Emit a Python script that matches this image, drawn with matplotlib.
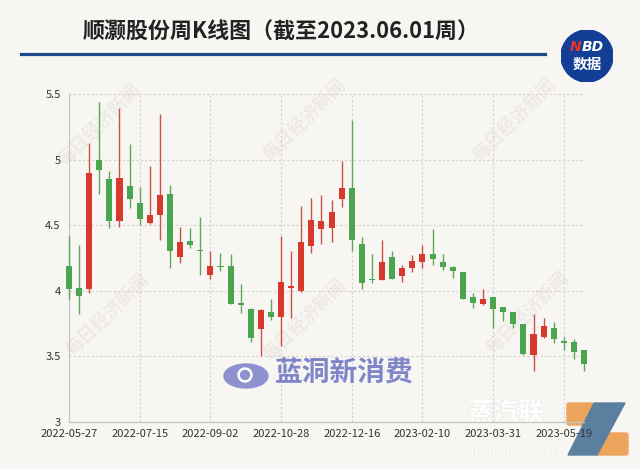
import numpy as np
import pandas as pd
import matplotlib.pyplot as plt
from matplotlib.patches import Rectangle, Circle, Ellipse, Polygon, FancyBboxPatch
import matplotlib.patheffects as pe

plt.rcParams['font.family'] = ['Noto Sans CJK SC', 'DejaVu Sans']

# weekly candles, Chinese colour convention: red = up, green = down
opens  = [4.19, 4.02, 4.01, 5.00, 4.85, 4.53, 4.80, 4.67, 4.52, 4.58,
          4.74, 4.26, 4.38, 4.31, 4.12, 4.19, 4.19, 3.91, 3.86, 3.71,
          3.84, 3.80, 4.02, 4.00, 4.34, 4.47, 4.48, 4.70, 4.78, 4.36,
          4.09, 4.08, 4.26, 4.11, 4.17, 4.22, 4.28, 4.22, 4.18, 4.14,
          3.95, 3.90, 3.95, 3.88, 3.84, 3.75, 3.51, 3.65, 3.72, 3.62,
          3.61, 3.55]
closes = [4.01, 3.96, 4.90, 4.92, 4.53, 4.86, 4.70, 4.55, 4.58, 4.73,
          4.30, 4.37, 4.35, 4.30, 4.19, 4.18, 3.90, 3.89, 3.64, 3.85,
          3.80, 4.07, 4.04, 4.37, 4.54, 4.53, 4.60, 4.78, 4.39, 4.06,
          4.08, 4.22, 4.09, 4.17, 4.23, 4.28, 4.24, 4.18, 4.15, 3.94,
          3.91, 3.94, 3.86, 3.84, 3.75, 3.52, 3.67, 3.73, 3.63, 3.60,
          3.53, 3.44]
highs  = [4.42, 4.35, 5.13, 5.44, 4.91, 5.39, 5.12, 4.79, 4.95, 5.35,
          4.81, 4.49, 4.48, 4.56, 4.30, 4.29, 4.28, 4.05, 3.87, 3.86,
          3.94, 4.42, 4.30, 4.65, 4.71, 4.73, 4.69, 4.99, 5.30, 4.41,
          4.28, 4.39, 4.30, 4.20, 4.27, 4.35, 4.47, 4.28, 4.19, 4.14,
          3.98, 4.01, 3.95, 3.88, 3.84, 3.75, 3.82, 3.79, 3.76, 3.65,
          3.63, 3.55]
lows   = [3.94, 3.82, 3.98, 4.74, 4.48, 4.49, 4.63, 4.50, 4.51, 4.39,
          4.17, 4.21, 4.33, 4.12, 4.09, 4.15, 3.90, 3.83, 3.61, 3.50,
          3.78, 3.58, 3.79, 3.99, 4.29, 4.36, 4.37, 4.64, 4.30, 4.01,
          4.06, 4.08, 4.09, 4.07, 4.14, 4.17, 4.20, 4.16, 4.10, 3.94,
          3.87, 3.89, 3.72, 3.77, 3.72, 3.51, 3.39, 3.64, 3.60, 3.55,
          3.48, 3.39]

# trading weeks (holiday weeks 2022-10-07 and 2023-01-27 have no candle)
weeks = pd.date_range("2022-05-27", "2023-06-02", freq="W-FRI")
weeks = [d for d in weeks if d.strftime("%Y-%m-%d") not in ("2022-10-07", "2023-01-27")]
tick_idx = [0, 7, 14, 21, 28, 35, 42, 49]
tick_labels = [weeks[i].strftime("%Y-%m-%d") for i in tick_idx]

title = "顺灏股份周K线图（截至2023.06.01周）"
bg = "#f8f6f2"
up_col, up_wick = "#d8392d", "#c95048"
dn_col, dn_wick = "#4aa64e", "#5aa85c"

W, H = 640, 469
fig = plt.figure(figsize=(6.4, 4.69), dpi=100, facecolor=bg)

def fx(x): return x / W
def fy(y): return 1 - y / H

# background layer: watermarks and the bottom-right logo sit under the chart
back = fig.add_axes([0, 0, 1, 1], facecolor="none", zorder=-1)
back.set_xlim(0, W); back.set_ylim(H, 0); back.axis("off")
for cx, cy in [(100, 125), (305, 120), (515, 120), (108, 315), (305, 320), (528, 313)]:
    back.text(cx, cy, "每日经济新闻", fontsize=13, color="#edeae5", rotation=45,
              ha="center", va="center", fontweight="bold")
back.text(506, 413, "蒸汽联", fontsize=18, fontweight="bold", color="white", ha="center",
          va="center", path_effects=[pe.withStroke(linewidth=1.0, foreground="#efece8")])
back.text(506, 450, "vapejoin.com", fontsize=11, style="italic", color="white", ha="center",
          va="center", path_effects=[pe.withStroke(linewidth=0.8, foreground="#f0ede9")])
back.add_patch(FancyBboxPatch((567, 403), 26, 22, boxstyle="round,pad=0,rounding_size=2",
                              color="#eda55e"))
back.add_patch(FancyBboxPatch((596, 433), 32, 22, boxstyle="round,pad=0,rounding_size=2",
                              color="#eda55e"))
back.add_patch(Polygon([(594, 403), (625, 403), (597, 455), (568, 455)], closed=True,
                       color="#5b7f9f"))

# header
fig.text(fx(83), fy(32), title, fontsize=15.8, fontweight="bold", color="#222222",
         ha="left", va="center")
fig.add_artist(plt.Line2D([fx(21), fx(545)], [fy(54), fy(54)], color="#1d4a8a", lw=2.3))
logo = fig.add_axes([fx(561), fy(82), fx(52), 52 / H])
logo.set_xlim(0, 1); logo.set_ylim(0, 1); logo.axis("off")
logo.add_patch(Circle((0.5, 0.5), 0.5, color="#123f95"))
logo.text(0.40, 0.68, "N", color="#e8332a", fontsize=10, fontweight="bold", style="italic",
          ha="right", va="center", family="DejaVu Sans")
logo.text(0.40, 0.68, "BD", color="white", fontsize=10, fontweight="bold", style="italic",
          ha="left", va="center", family="DejaVu Sans")
logo.text(0.5, 0.36, "数据", color="white", fontsize=10.5, fontweight="bold",
          ha="center", va="center")

ax = fig.add_axes([fx(69), fy(422), fx(584 - 69), (422 - 94) / H])
ax.set_facecolor("none")

for i in range(len(opens)):
    o, c, h, l = opens[i], closes[i], highs[i], lows[i]
    up = c >= o
    ax.vlines(i, l, h, color=up_wick if up else dn_wick, lw=1.0, zorder=3, clip_on=False)
    bottom = min(o, c)
    height = max(abs(c - o), 0.006)
    ax.add_patch(Rectangle((i - 0.3, bottom), 0.6, height,
                           facecolor=up_col if up else dn_col, edgecolor="none",
                           zorder=4, clip_on=False))

ax.set_xlim(0, len(opens) - 1)
ax.set_ylim(3, 5.5)
ax.set_yticks([3, 3.5, 4, 4.5, 5, 5.5])
ax.set_yticklabels(["3", "3.5", "4", "4.5", "5", "5.5"])
ax.set_xticks(tick_idx)
ax.set_xticklabels(tick_labels)
ax.tick_params(length=0, labelsize=8, colors="#333333")
ax.tick_params(axis="y", pad=6)
ax.tick_params(axis="x", pad=5)

for y in [3.5, 4, 4.5, 5, 5.5]:
    ax.axhline(y, color="#d4d0cb", lw=0.8, ls=(0, (2, 2)), zorder=1)
for i in tick_idx[1:]:
    ax.axvline(i, color="#d4d0cb", lw=0.8, ls=(0, (2, 2)), zorder=1)
for s in ["top", "right"]:
    ax.spines[s].set_visible(False)
for s in ["left", "bottom"]:
    ax.spines[s].set_color("#c8c4bf")
    ax.spines[s].set_linewidth(0.9)

# brand logo in the middle
ov = fig.add_axes([0, 0, 1, 1], facecolor="none")
ov.set_xlim(0, W); ov.set_ylim(H, 0); ov.axis("off")
ov.add_patch(Ellipse((246, 376), 44, 24, color="#8d92cf", zorder=5))
ov.add_patch(Circle((245, 375), 7, color="white", zorder=6))
ov.add_patch(Circle((245, 375), 4.5, color="#8d92cf", zorder=7))
ov.text(275, 374, "蓝洞新消费", fontsize=20, fontweight="bold", style="italic", color="#7f85c9",
        ha="left", va="center", zorder=6)

fig.savefig("out.png", dpi=100, facecolor=bg)
